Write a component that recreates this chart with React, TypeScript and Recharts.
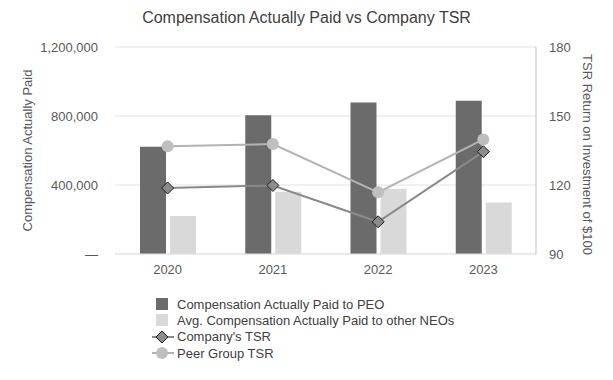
import React from 'react'
import {
  Bar,
  CartesianGrid,
  ComposedChart,
  Label,
  Line,
  XAxis,
  YAxis,
} from 'recharts'

const years = ['2020', '2021', '2022', '2023']
const peoPay = [622000, 805000, 878000, 888000]
const neoPay = [220000, 361000, 378000, 298000]
const companyTsr = [118.7, 119.8, 104, 134.5]
const peerTsr = [136.8, 137.8, 116.8, 139.8]

const payTicks = [0, 400000, 800000, 1200000]
const tsrTicks = [90, 120, 150, 180]

const COLORS = {
  peo: '#6b6b6b',
  neo: '#d9d9d9',
  company: '#8a8a8a',
  companyDot: '#8c8c8c',
  peer: '#b3b3b3',
  peerDot: '#bfbfbf',
  grid: '#e3e3e3',
  text: '#595959',
  title: '#404040',
}

const FONT = '"Liberation Sans", Arial, sans-serif'

const data = years.map((year, i) => ({
  year,
  peo: peoPay[i],
  neo: neoPay[i],
  company: companyTsr[i],
  peer: peerTsr[i],
}))

const legendItems = [
  { key: 'peo', label: 'Compensation Actually Paid to PEO', kind: 'bar', color: COLORS.peo },
  { key: 'neo', label: 'Avg. Compensation Actually Paid to other NEOs', kind: 'bar', color: COLORS.neo },
  { key: 'company', label: "Company's TSR", kind: 'diamond', color: COLORS.company },
  { key: 'peer', label: 'Peer Group TSR', kind: 'circle', color: COLORS.peer },
]

const formatPay = (v: number) => (v === 0 ? '—' : v.toLocaleString('en-US'))

const Diamond = (props: any) => {
  const { cx, cy } = props
  if (cx == null || cy == null) return null
  const r = 6
  return (
    <path
      d={`M${cx},${cy - r} L${cx + r},${cy} L${cx},${cy + r} L${cx - r},${cy} Z`}
      fill={COLORS.companyDot}
      stroke="#1a1a1a"
      strokeWidth={1}
    />
  )
}

const LegendIcon = ({ kind, color }: { kind: string; color: string }) => {
  if (kind === 'bar') {
    return (
      <svg width={24} height={14}>
        <rect x={4} y={1} width={12} height={12} fill={color} />
      </svg>
    )
  }
  return (
    <svg width={24} height={14}>
      <line x1={0} y1={7} x2={22} y2={7} stroke={color} strokeWidth={2} />
      {kind === 'diamond' ? (
        <path d="M10,1 L16,7 L10,13 L4,7 Z" fill={COLORS.companyDot} stroke="#1a1a1a" strokeWidth={1} />
      ) : (
        <circle cx={10} cy={7} r={6} fill={COLORS.peerDot} />
      )}
    </svg>
  )
}

// rotated axis title, x fixed, centred on the plot height (plus a nudge)
const axisTitle = (text: string, x: number, angle: number, nudge: number) => (props: any) => {
  const vb = props.viewBox || {}
  const cy = (vb.y ?? 0) + (vb.height ?? 0) / 2 + nudge
  return (
    <text
      x={x}
      y={cy}
      transform={`rotate(${angle}, ${x}, ${cy})`}
      textAnchor="middle"
      dominantBaseline="central"
      fill={COLORS.text}
      fontSize={13}
    >
      {text}
    </text>
  )
}

export default function App() {
  return (
    <div
      style={{
        position: 'absolute',
        left: 0,
        top: 0,
        width: 613,
        height: 380,
        background: '#fff',
        fontFamily: FONT,
      }}
    >
      <div
        style={{
          position: 'absolute',
          top: 9,
          left: 0,
          width: 613,
          textAlign: 'center',
          fontSize: 16,
          color: COLORS.title,
        }}
      >
        Compensation Actually Paid vs Company TSR
      </div>

      <ComposedChart
        width={613}
        height={380}
        data={data}
        margin={{ top: 47, right: 0, bottom: 96, left: 0 }}
        style={{ fontFamily: FONT }}
      >
        <CartesianGrid stroke={COLORS.grid} vertical={false} yAxisId="pay" />
        <XAxis
          dataKey="year"
          height={30}
          tick={{ fill: COLORS.text, fontSize: 13 }}
          axisLine={{ stroke: COLORS.grid }}
          tickLine={false}
          tickSize={0}
          tickMargin={11}
        />
        <YAxis
          yAxisId="pay"
          orientation="left"
          width={115}
          domain={[0, 1200000]}
          ticks={payTicks}
          tickFormatter={formatPay}
          tick={{ fill: COLORS.text, fontSize: 13 }}
          axisLine={false}
          tickLine={false}
          tickSize={0}
          tickMargin={17}
        >
          <Label content={axisTitle('Compensation Actually Paid', 27, -90, 0)} />
        </YAxis>
        <YAxis
          yAxisId="tsr"
          orientation="right"
          width={77}
          domain={[90, 180]}
          ticks={tsrTicks}
          tick={{ fill: COLORS.text, fontSize: 13 }}
          axisLine={{ stroke: '#bfbfbf' }}
          tickLine={false}
          tickSize={0}
          tickMargin={13}
        >
          <Label content={axisTitle('TSR Return on Investment of $100', 587, 90, 4)} />
        </YAxis>
        <Bar yAxisId="pay" dataKey="peo" fill={COLORS.peo} barSize={26} isAnimationActive={false} />
        <Bar yAxisId="pay" dataKey="neo" fill={COLORS.neo} barSize={26} isAnimationActive={false} />
        <Line
          yAxisId="tsr"
          dataKey="company"
          stroke={COLORS.company}
          strokeWidth={2}
          dot={<Diamond />}
          activeDot={false}
          isAnimationActive={false}
        />
        <Line
          yAxisId="tsr"
          dataKey="peer"
          stroke={COLORS.peer}
          strokeWidth={2}
          dot={{ r: 6, fill: COLORS.peerDot, stroke: 'none' }}
          activeDot={false}
          isAnimationActive={false}
        />
      </ComposedChart>

      <div style={{ position: 'absolute', left: 152, top: 296, fontSize: 13, color: COLORS.title }}>
        {legendItems.map((item) => (
          <div key={item.key} style={{ display: 'flex', alignItems: 'center', height: 16.3 }}>
            <LegendIcon kind={item.kind} color={item.color} />
            <span style={{ marginLeft: 1 }}>{item.label}</span>
          </div>
        ))}
      </div>
    </div>
  )
}
